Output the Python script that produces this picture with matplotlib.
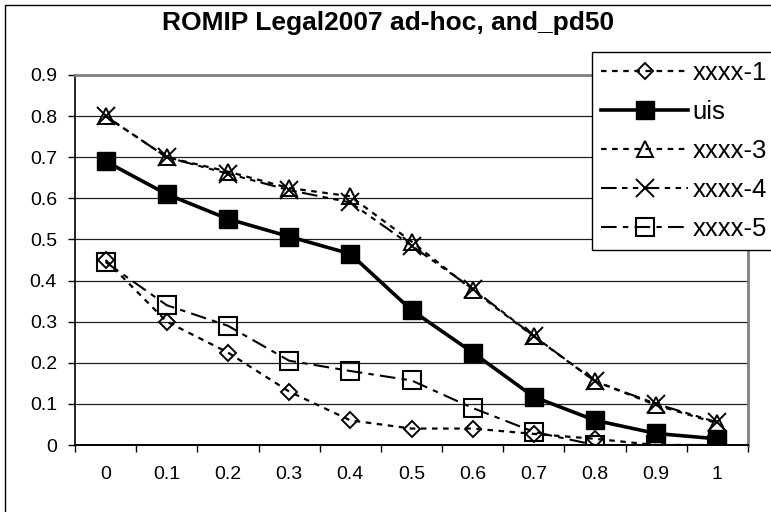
import numpy as np
import matplotlib
matplotlib.use('Agg')
import matplotlib.pyplot as plt
from matplotlib.patches import Rectangle

plt.rcParams['font.family'] = ['Liberation Sans', 'DejaVu Sans']

# recall levels (category axis)
categories = ['0', '0.1', '0.2', '0.3', '0.4', '0.5', '0.6', '0.7', '0.8', '0.9', '1']

# precision values
xxxx1 = [0.45, 0.30, 0.225, 0.13, 0.06, 0.04, 0.04, 0.027, 0.015, 0.0, 0.0]
uis = [0.69, 0.61, 0.55, 0.507, 0.465, 0.328, 0.225, 0.117, 0.06, 0.028, 0.015]
xxxx3 = [0.80, 0.70, 0.665, 0.625, 0.605, 0.495, 0.377, 0.264, 0.155, 0.097, 0.053]
xxxx4 = [0.80, 0.70, 0.66, 0.62, 0.59, 0.485, 0.38, 0.265, 0.155, 0.10, 0.055]
xxxx5 = [0.445, 0.34, 0.29, 0.205, 0.18, 0.157, 0.09, 0.032, 0.0, 0.0, 0.0]

y_ticks = [0, 0.1, 0.2, 0.3, 0.4, 0.5, 0.6, 0.7, 0.8, 0.9]
y_labels = ['0', '0.1', '0.2', '0.3', '0.4', '0.5', '0.6', '0.7', '0.8', '0.9']

W, H = 771, 512
fig = plt.figure(figsize=(W / 100, H / 100), dpi=100)
ax = fig.add_axes([75 / W, 1 - 445 / H, (748 - 75) / W, (445 - 75) / H])

xpos = np.arange(len(categories))

ax.plot(xpos, xxxx1, color='black', lw=1.6, linestyle=(0, (2.5, 2.5)),
        marker='D', ms=8, mfc='none', mec='black', mew=1.4, label='xxxx-1', zorder=3)
ax.plot(xpos, uis, color='black', lw=2.6, linestyle='-',
        marker='s', ms=12.5, mfc='black', mec='black', label='uis', zorder=4)
ax.plot(xpos, xxxx3, color='black', lw=1.6, linestyle=(0, (2.5, 2.5)),
        marker='^', ms=11.5, mfc='none', mec='black', mew=1.4, label='xxxx-3', zorder=5)
ax.plot(xpos, xxxx4, color='black', lw=1.5, linestyle=(0, (7.5, 2.6, 2.6, 2.6, 2.6, 2.6)),
        marker='x', ms=12.5, mec='black', mew=1.4, label='xxxx-4', zorder=5)
ax.plot(xpos, xxxx5, color='black', lw=1.5, linestyle=(0, (7.5, 3, 2.6, 3)),
        marker='s', ms=12.5, mfc='none', mec='black', mew=1.5, label='xxxx-5', zorder=5)

ax.set_xlim(-0.5, len(categories) - 0.5)
ax.set_ylim(0, 0.9)

# category axis: ticks between categories, labels centred
ax.set_xticks(np.arange(len(categories) + 1) - 0.5)
ax.set_xticklabels([])
ax.set_xticks(xpos, minor=True)
ax.set_xticklabels(categories, minor=True, fontsize=14)
ax.tick_params(axis='x', which='major', direction='out', length=5, width=1)
ax.tick_params(axis='x', which='minor', length=0, pad=15)

ax.set_yticks(y_ticks)
ax.set_yticklabels(y_labels, fontsize=14)
ax.tick_params(axis='y', direction='out', length=5, width=1, pad=8)

ax.grid(axis='y', color='#202020', lw=0.9)
ax.set_axisbelow(True)

ax.spines['left'].set_color('black')
ax.spines['left'].set_linewidth(1.2)
ax.spines['bottom'].set_color('black')
ax.spines['bottom'].set_linewidth(1.4)
ax.spines['top'].set_color('#808080')
ax.spines['top'].set_linewidth(2)
ax.spines['right'].set_color('#808080')
ax.spines['right'].set_linewidth(2)
for sp in ax.spines.values():
    sp.set_zorder(6)

fig.text(388 / W, 1 - 23 / H, 'ROMIP Legal2007 ad-hoc, and_pd50',
         ha='center', va='center', fontsize=19, fontweight='bold')

# legend runs past the right edge, like in the original
leg = fig.legend(loc='upper left', bbox_to_anchor=(592 / W, 1 - 52 / H, 0.3, 0),
                 mode='expand',
                 fontsize=18.5, frameon=True, fancybox=False, framealpha=1,
                 edgecolor='black', borderpad=0.35, borderaxespad=0,
                 handlelength=3.4, handletextpad=0.15, labelspacing=0.58,
                 numpoints=1)
leg.get_frame().set_linewidth(1)
leg.set_zorder(10)

# outer chart border (cut at right and bottom)
fig.patches.append(Rectangle((5 / W, -0.5), 2, 1.5 - 5 / H, transform=fig.transFigure,
                             fill=False, edgecolor='black', lw=1))

fig.savefig('out.png', dpi=100)
